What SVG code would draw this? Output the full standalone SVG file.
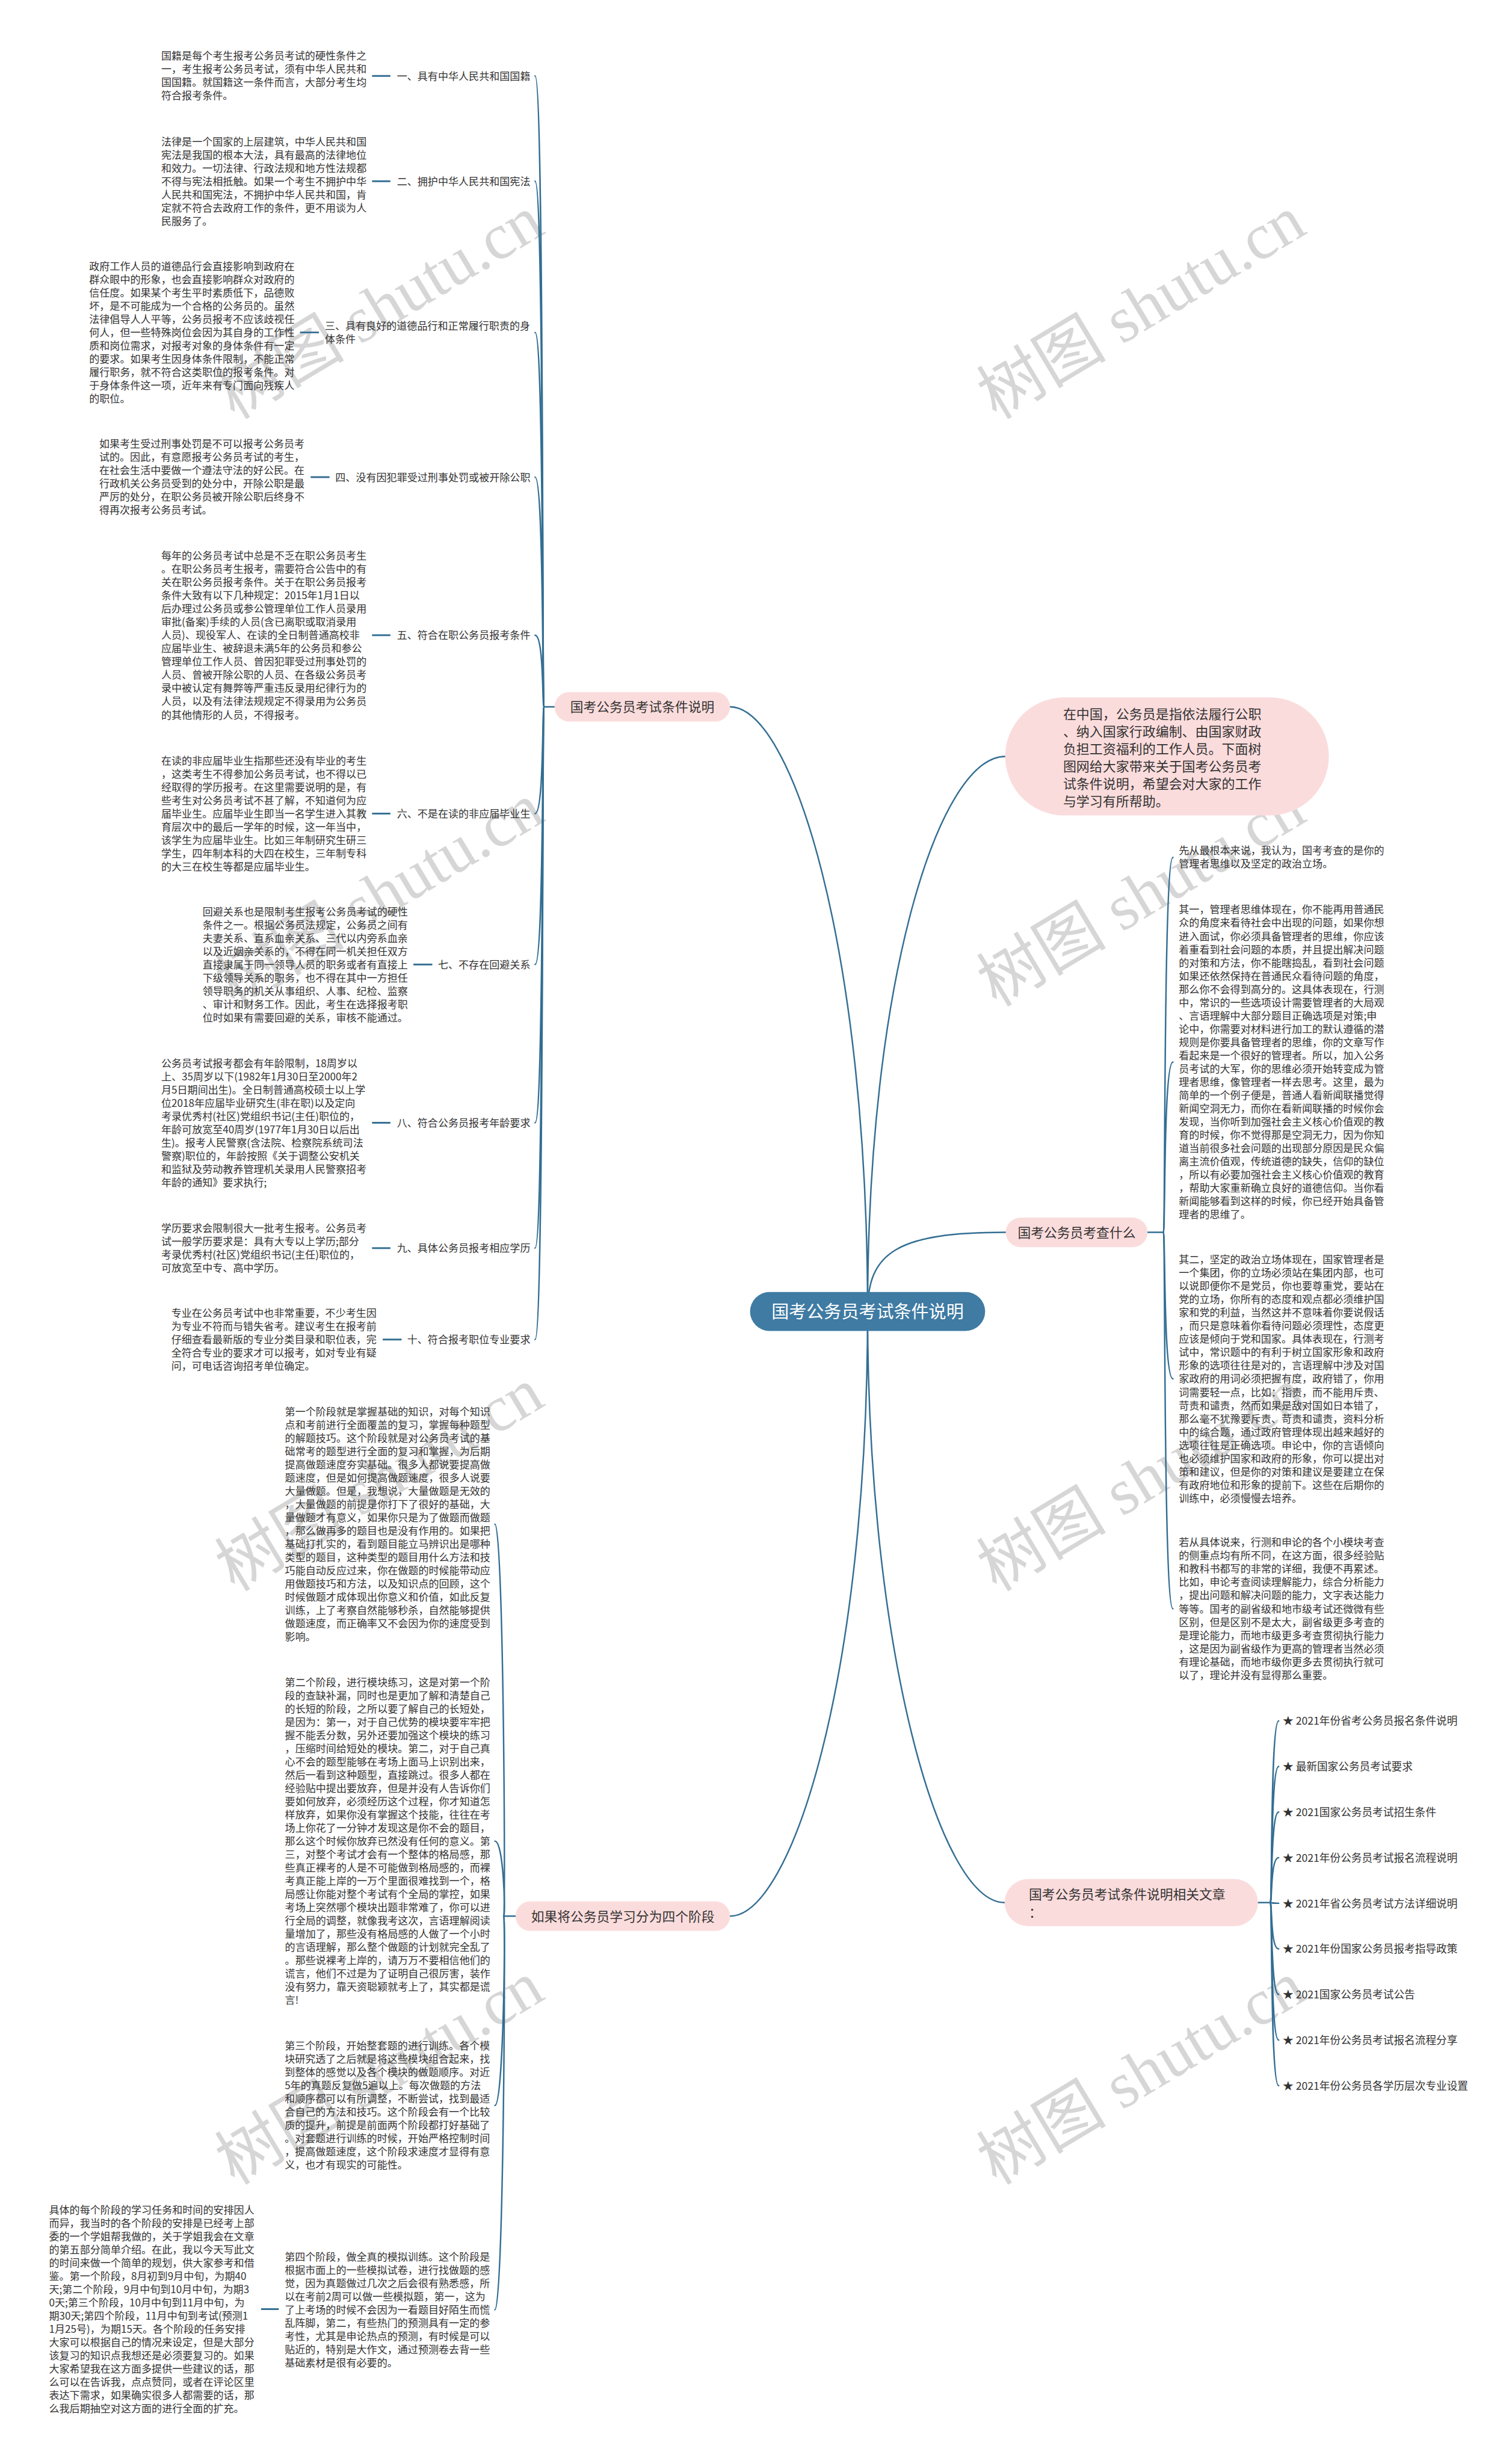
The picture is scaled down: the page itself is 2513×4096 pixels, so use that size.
<svg xmlns="http://www.w3.org/2000/svg" width="2513" height="4096" viewBox="0 0 2513 4096">
<style>
.t{font-family:"Noto Sans CJK SC","Noto Sans",sans-serif;font-size:17.4px;fill:#333}
.li{font-family:"Noto Sans CJK SC","Noto Sans",sans-serif;font-size:18px;fill:#333}
.pt{font-family:"Noto Sans CJK SC","Noto Sans",sans-serif;font-size:22.2px;fill:#333}
.it{font-family:"Noto Sans CJK SC","Noto Sans",sans-serif;font-size:22.4px;fill:#333}
.rt{font-family:"Noto Sans CJK SC","Noto Sans",sans-serif;font-size:29.6px;fill:#fff}
.pill{fill:#fbdcdc}
.c{fill:none;stroke:#336e93;stroke-width:2.5;stroke-linecap:round}
.s{fill:none;stroke:#336e93;stroke-width:3}
.wm{font-family:"Liberation Serif","Noto Sans CJK SC",serif;font-size:110px;fill:#d6d6d6;text-anchor:middle}
</style>
<rect width="2513" height="4096" fill="#ffffff"/>
<g transform="scale(0.9816)">
<g id="watermarks">
<text class="wm" transform="translate(642,520) rotate(-31)" x="0" y="38">树图 shutu.cn</text>
<text class="wm" transform="translate(1932,520) rotate(-31)" x="0" y="38">树图 shutu.cn</text>
<text class="wm" transform="translate(642,1515) rotate(-31)" x="0" y="38">树图 shutu.cn</text>
<text class="wm" transform="translate(1932,1515) rotate(-31)" x="0" y="38">树图 shutu.cn</text>
<text class="wm" transform="translate(642,2505) rotate(-31)" x="0" y="38">树图 shutu.cn</text>
<text class="wm" transform="translate(1932,2505) rotate(-31)" x="0" y="38">树图 shutu.cn</text>
<text class="wm" transform="translate(642,3510) rotate(-31)" x="0" y="38">树图 shutu.cn</text>
<text class="wm" transform="translate(1932,3510) rotate(-31)" x="0" y="38">树图 shutu.cn</text>
</g>
<g id="connectors">
<path class="c" d="M1469 2221 C1469 1600,1340 1197,1236 1197"/>
<path class="c" d="M1469 2221 C1469 2842,1340 3245,1236 3245"/>
<path class="c" d="M1469 2221 C1469 1660,1590 1281,1702 1281"/>
<path class="c" d="M1469 2221 C1469 2120,1520 2087,1703 2087"/>
<path class="c" d="M1469 2221 C1469 2790,1590 3222,1701 3222"/>
<path class="c" d="M939 1197 H921"/>
<path class="c" d="M921 1197 C918 1197,921 128.6,906 128.6"/>
<path class="c" d="M921 1197 C918 1197,921 306.9,906 306.9"/>
<path class="c" d="M921 1197 C918 1197,921 563,906 563"/>
<path class="c" d="M921 1197 C918 1197,921 808,906 808"/>
<path class="c" d="M921 1197 C918 1197,921 1075.7,906 1075.7"/>
<path class="c" d="M921 1197 C918 1197,921 1377.8,906 1377.8"/>
<path class="c" d="M921 1197 C918 1197,921 1633.4,906 1633.4"/>
<path class="c" d="M921 1197 C918 1197,921 1901.4,906 1901.4"/>
<path class="c" d="M921 1197 C918 1197,921 2113.7,906 2113.7"/>
<path class="c" d="M921 1197 C918 1197,921 2268.5,906 2268.5"/>
<path class="s" d="M630 128.6 H661"/>
<path class="s" d="M630 306.9 H661"/>
<path class="s" d="M508 563 H540"/>
<path class="s" d="M526 808 H558"/>
<path class="s" d="M630 1075.7 H661"/>
<path class="s" d="M630 1377.8 H661"/>
<path class="s" d="M700 1633.4 H732"/>
<path class="s" d="M630 1901.4 H661"/>
<path class="s" d="M630 2113.7 H661"/>
<path class="s" d="M648 2268.5 H680"/>
<path class="c" d="M873 3245 H853"/>
<path class="c" d="M853 3245 C856 3245,853 2581.2,838 2581.2"/>
<path class="c" d="M853 3245 C856 3245,853 3118,838 3118"/>
<path class="c" d="M853 3245 C856 3245,853 3565.5,838 3565.5"/>
<path class="c" d="M853 3245 C856 3245,853 3911.4,838 3911.4"/>
<path class="s" d="M442 3910.5 H472"/>
<path class="c" d="M1943 2087 H1970"/>
<path class="c" d="M1970 2087 C1973 2087,1970 1452,1986 1452"/>
<path class="c" d="M1970 2087 C1973 2087,1970 1798.6,1986 1798.6"/>
<path class="c" d="M1970 2087 C1973 2087,1970 2335,1986 2335"/>
<path class="c" d="M1970 2087 C1973 2087,1970 2724.5,1986 2724.5"/>
<path class="c" d="M2130 3222 H2151"/>
<path class="c" d="M2151 3222 C2154 3222,2151 2914.4,2165 2914.4"/>
<path class="c" d="M2151 3222 C2154 3222,2151 2991.6,2165 2991.6"/>
<path class="c" d="M2151 3222 C2154 3222,2151 3068.8,2165 3068.8"/>
<path class="c" d="M2151 3222 C2154 3222,2151 3146,2165 3146"/>
<path class="c" d="M2151 3222 C2154 3222,2151 3223.2,2165 3223.2"/>
<path class="c" d="M2151 3222 C2154 3222,2151 3300.4,2165 3300.4"/>
<path class="c" d="M2151 3222 C2154 3222,2151 3377.6,2165 3377.6"/>
<path class="c" d="M2151 3222 C2154 3222,2151 3454.8,2165 3454.8"/>
<path class="c" d="M2151 3222 C2154 3222,2151 3532,2165 3532"/>
</g>
<g id="root">
<rect x="1270" y="2188" width="398" height="66" rx="33" fill="#3f7ba3"/>
<text class="rt" x="1469" y="2232.2" text-anchor="middle">国考公务员考试条件说明</text>
</g>
<g id="branch-conditions">
<rect class="pill" x="939" y="1172" width="297" height="50" rx="25"/>
<text class="pt" x="1087.5" y="1205.4" text-anchor="middle">国考公务员考试条件说明</text>
</g>
<g id="branch-stages">
<rect class="pill" x="873" y="3220" width="363" height="50" rx="25"/>
<text class="pt" x="1054.5" y="3253.4" text-anchor="middle">如果将公务员学习分为四个阶段</text>
</g>
<g id="intro">
<rect class="pill" x="1702" y="1181" width="548" height="200" rx="100"/>
<text class="it" x="1800" y="1217.5"><tspan x="1800">在中国，公务员是指依法履行公职</tspan><tspan x="1800" dy="29.5">、纳入国家行政编制、由国家财政</tspan><tspan x="1800" dy="29.5">负担工资福利的工作人员。下面树</tspan><tspan x="1800" dy="29.5">图网给大家带来关于国考公务员考</tspan><tspan x="1800" dy="29.5">试条件说明，希望会对大家的工作</tspan><tspan x="1800" dy="29.5">与学习有所帮助。</tspan></text>
</g>
<g id="branch-examine">
<rect class="pill" x="1703" y="2062" width="240" height="50" rx="25"/>
<text class="pt" x="1823" y="2095.4" text-anchor="middle">国考公务员考查什么</text>
</g>
<g id="branch-articles">
<rect class="pill" x="1701" y="3182" width="429" height="80" rx="40"/>
<text class="pt" x="1742" y="3216.4"><tspan x="1742">国考公务员考试条件说明相关文章</tspan><tspan x="1742" dy="30">：</tspan></text>
</g>
<g id="c1">
<text class="t" x="898" y="135.1" text-anchor="end">一、具有中华人民共和国国籍</text>
<text class="t" x="273" y="101.2"><tspan x="273">国籍是每个考生报考公务员考试的硬性条件之</tspan><tspan x="273" dy="22.45">一，考生报考公务员考试，须有中华人民共和</tspan><tspan x="273" dy="22.45">国国籍。就国籍这一条件而言，大部分考生均</tspan><tspan x="273" dy="22.45">符合报考条件。</tspan></text>
</g>
<g id="c2">
<text class="t" x="898" y="313.4" text-anchor="end">二、拥护中华人民共和国宪法</text>
<text class="t" x="273" y="246.1"><tspan x="273">法律是一个国家的上层建筑，中华人民共和国</tspan><tspan x="273" dy="22.45">宪法是我国的根本大法，具有最高的法律地位</tspan><tspan x="273" dy="22.45">和效力。一切法律、行政法规和地方性法规都</tspan><tspan x="273" dy="22.45">不得与宪法相抵触。如果一个考生不拥护中华</tspan><tspan x="273" dy="22.45">人民共和国宪法，不拥护中华人民共和国，肯</tspan><tspan x="273" dy="22.45">定就不符合去政府工作的条件，更不用谈为人</tspan><tspan x="273" dy="22.45">民服务了。</tspan></text>
</g>
<g id="c3">
<text class="t" x="550" y="558.3"><tspan x="550">三、具有良好的道德品行和正常履行职责的身</tspan><tspan x="550" dy="22.45">体条件</tspan></text>
<text class="t" x="151" y="457.1"><tspan x="151">政府工作人员的道德品行会直接影响到政府在</tspan><tspan x="151" dy="22.45">群众眼中的形象，也会直接影响群众对政府的</tspan><tspan x="151" dy="22.45">信任度。如果某个考生平时素质低下，品德败</tspan><tspan x="151" dy="22.45">坏，是不可能成为一个合格的公务员的。虽然</tspan><tspan x="151" dy="22.45">法律倡导人人平等，公务员报考不应该歧视任</tspan><tspan x="151" dy="22.45">何人，但一些特殊岗位会因为其自身的工作性</tspan><tspan x="151" dy="22.45">质和岗位需求，对报考对象的身体条件有一定</tspan><tspan x="151" dy="22.45">的要求。如果考生因身体条件限制，不能正常</tspan><tspan x="151" dy="22.45">履行职务，就不符合这类职位的报考条件。对</tspan><tspan x="151" dy="22.45">于身体条件这一项，近年来有专门面向残疾人</tspan><tspan x="151" dy="22.45">的职位。</tspan></text>
</g>
<g id="c4">
<text class="t" x="898" y="814.5" text-anchor="end">四、没有因犯罪受过刑事处罚或被开除公职</text>
<text class="t" x="168" y="758.2"><tspan x="168">如果考生受过刑事处罚是不可以报考公务员考</tspan><tspan x="168" dy="22.45">试的。因此，有意愿报考公务员考试的考生，</tspan><tspan x="168" dy="22.45">在社会生活中要做一个遵法守法的好公民。在</tspan><tspan x="168" dy="22.45">行政机关公务员受到的处分中，开除公职是最</tspan><tspan x="168" dy="22.45">严厉的处分，在职公务员被开除公职后终身不</tspan><tspan x="168" dy="22.45">得再次报考公务员考试。</tspan></text>
</g>
<g id="c5">
<text class="t" x="898" y="1082.2" text-anchor="end">五、符合在职公务员报考条件</text>
<text class="t" x="273" y="947.5"><tspan x="273">每年的公务员考试中总是不乏在职公务员考生</tspan><tspan x="273" dy="22.45">。在职公务员考生报考，需要符合公告中的有</tspan><tspan x="273" dy="22.45">关在职公务员报考条件。关于在职公务员报考</tspan><tspan x="273" dy="22.45">条件大致有以下几种规定：2015年1月1日以</tspan><tspan x="273" dy="22.45">后办理过公务员或参公管理单位工作人员录用</tspan><tspan x="273" dy="22.45">审批(备案)手续的人员(含已离职或取消录用</tspan><tspan x="273" dy="22.45">人员)、现役军人、在读的全日制普通高校非</tspan><tspan x="273" dy="22.45">应届毕业生、被辞退未满5年的公务员和参公</tspan><tspan x="273" dy="22.45">管理单位工作人员、曾因犯罪受过刑事处罚的</tspan><tspan x="273" dy="22.45">人员、曾被开除公职的人员、在各级公务员考</tspan><tspan x="273" dy="22.45">录中被认定有舞弊等严重违反录用纪律行为的</tspan><tspan x="273" dy="22.45">人员，以及有法律法规规定不得录用为公务员</tspan><tspan x="273" dy="22.45">的其他情形的人员，不得报考。</tspan></text>
</g>
<g id="c6">
<text class="t" x="898" y="1384.3" text-anchor="end">六、不是在读的非应届毕业生</text>
<text class="t" x="273" y="1294.5"><tspan x="273">在读的非应届毕业生指那些还没有毕业的考生</tspan><tspan x="273" dy="22.45">，这类考生不得参加公务员考试，也不得以已</tspan><tspan x="273" dy="22.45">经取得的学历报考。在这里需要说明的是，有</tspan><tspan x="273" dy="22.45">些考生对公务员考试不甚了解，不知道何为应</tspan><tspan x="273" dy="22.45">届毕业生。应届毕业生即当一名学生进入其教</tspan><tspan x="273" dy="22.45">育层次中的最后一学年的时候，这一年当中，</tspan><tspan x="273" dy="22.45">该学生为应届毕业生。比如三年制研究生研三</tspan><tspan x="273" dy="22.45">学生，四年制本科的大四在校生，三年制专科</tspan><tspan x="273" dy="22.45">的大三在校生等都是应届毕业生。</tspan></text>
</g>
<g id="c7">
<text class="t" x="898" y="1639.9" text-anchor="end">七、不存在回避关系</text>
<text class="t" x="343" y="1550.1"><tspan x="343">回避关系也是限制考生报考公务员考试的硬性</tspan><tspan x="343" dy="22.45">条件之一。根据公务员法规定，公务员之间有</tspan><tspan x="343" dy="22.45">夫妻关系、直系血亲关系、三代以内旁系血亲</tspan><tspan x="343" dy="22.45">以及近姻亲关系的，不得在同一机关担任双方</tspan><tspan x="343" dy="22.45">直接隶属于同一领导人员的职务或者有直接上</tspan><tspan x="343" dy="22.45">下级领导关系的职务，也不得在其中一方担任</tspan><tspan x="343" dy="22.45">领导职务的机关从事组织、人事、纪检、监察</tspan><tspan x="343" dy="22.45">、审计和财务工作。因此，考生在选择报考职</tspan><tspan x="343" dy="22.45">位时如果有需要回避的关系，审核不能通过。</tspan></text>
</g>
<g id="c8">
<text class="t" x="898" y="1907.9" text-anchor="end">八、符合公务员报考年龄要求</text>
<text class="t" x="273" y="1806.9"><tspan x="273">公务员考试报考都会有年龄限制，18周岁以</tspan><tspan x="273" dy="22.45">上、35周岁以下(1982年1月30日至2000年2</tspan><tspan x="273" dy="22.45">月5日期间出生)。全日制普通高校硕士以上学</tspan><tspan x="273" dy="22.45">位2018年应届毕业研究生(非在职)以及定向</tspan><tspan x="273" dy="22.45">考录优秀村(社区)党组织书记(主任)职位的，</tspan><tspan x="273" dy="22.45">年龄可放宽至40周岁(1977年1月30日以后出</tspan><tspan x="273" dy="22.45">生)。报考人民警察(含法院、检察院系统司法</tspan><tspan x="273" dy="22.45">警察)职位的，年龄按照《关于调整公安机关</tspan><tspan x="273" dy="22.45">和监狱及劳动教养管理机关录用人民警察招考</tspan><tspan x="273" dy="22.45">年龄的通知》要求执行;</tspan></text>
</g>
<g id="c9">
<text class="t" x="898" y="2120.2" text-anchor="end">九、具体公务员报考相应学历</text>
<text class="t" x="273" y="2086.5"><tspan x="273">学历要求会限制很大一批考生报考。公务员考</tspan><tspan x="273" dy="22.45">试一般学历要求是：具有大专以上学历;部分</tspan><tspan x="273" dy="22.45">考录优秀村(社区)党组织书记(主任)职位的，</tspan><tspan x="273" dy="22.45">可放宽至中专、高中学历。</tspan></text>
</g>
<g id="c10">
<text class="t" x="898" y="2275" text-anchor="end">十、符合报考职位专业要求</text>
<text class="t" x="290" y="2230.1"><tspan x="290">专业在公务员考试中也非常重要，不少考生因</tspan><tspan x="290" dy="22.45">为专业不符而与错失省考。建议考生在报考前</tspan><tspan x="290" dy="22.45">仔细查看最新版的专业分类目录和职位表，完</tspan><tspan x="290" dy="22.45">全符合专业的要求才可以报考，如对专业有疑</tspan><tspan x="290" dy="22.45">问，可电话咨询招考单位确定。</tspan></text>
</g>
<g id="stage1">
<text class="t" x="482.5" y="2396.9"><tspan x="482.5">第一个阶段就是掌握基础的知识，对每个知识</tspan><tspan x="482.5" dy="22.45">点和考前进行全面覆盖的复习，掌握每种题型</tspan><tspan x="482.5" dy="22.45">的解题技巧。这个阶段就是对公务员考试的基</tspan><tspan x="482.5" dy="22.45">础常考的题型进行全面的复习和掌握，为后期</tspan><tspan x="482.5" dy="22.45">提高做题速度夯实基础。很多人都说要提高做</tspan><tspan x="482.5" dy="22.45">题速度，但是如何提高做题速度，很多人说要</tspan><tspan x="482.5" dy="22.45">大量做题。但是，我想说，大量做题是无效的</tspan><tspan x="482.5" dy="22.45">，大量做题的前提是你打下了很好的基础，大</tspan><tspan x="482.5" dy="22.45">量做题才有意义，如果你只是为了做题而做题</tspan><tspan x="482.5" dy="22.45">，那么做再多的题目也是没有作用的。如果把</tspan><tspan x="482.5" dy="22.45">基础打扎实的，看到题目能立马辨识出是哪种</tspan><tspan x="482.5" dy="22.45">类型的题目，这种类型的题目用什么方法和技</tspan><tspan x="482.5" dy="22.45">巧能自动反应过来，你在做题的时候能带动应</tspan><tspan x="482.5" dy="22.45">用做题技巧和方法，以及知识点的回顾，这个</tspan><tspan x="482.5" dy="22.45">时候做题才成体现出你意义和价值，如此反复</tspan><tspan x="482.5" dy="22.45">训练，上了考察自然能够秒杀，自然能够提供</tspan><tspan x="482.5" dy="22.45">做题速度，而正确率又不会因为你的速度受到</tspan><tspan x="482.5" dy="22.45">影响。</tspan></text>
</g>
<g id="stage2">
<text class="t" x="482.5" y="2855.1"><tspan x="482.5">第二个阶段，进行模块练习，这是对第一个阶</tspan><tspan x="482.5" dy="22.45">段的查缺补漏，同时也是更加了解和清楚自己</tspan><tspan x="482.5" dy="22.45">的长短的阶段，之所以要了解自己的长短处，</tspan><tspan x="482.5" dy="22.45">是因为：第一，对于自己优势的模块要牢牢把</tspan><tspan x="482.5" dy="22.45">握不能丢分数，另外还要加强这个模块的练习</tspan><tspan x="482.5" dy="22.45">，压缩时间给短处的模块。第二，对于自己真</tspan><tspan x="482.5" dy="22.45">心不会的题型能够在考场上面马上识别出来，</tspan><tspan x="482.5" dy="22.45">然后一看到这种题型，直接跳过。很多人都在</tspan><tspan x="482.5" dy="22.45">经验贴中提出要放弃，但是并没有人告诉你们</tspan><tspan x="482.5" dy="22.45">要如何放弃，必须经历这个过程，你才知道怎</tspan><tspan x="482.5" dy="22.45">样放弃，如果你没有掌握这个技能，往往在考</tspan><tspan x="482.5" dy="22.45">场上你花了一分钟才发现这是你不会的题目，</tspan><tspan x="482.5" dy="22.45">那么这个时候你放弃已然没有任何的意义。第</tspan><tspan x="482.5" dy="22.45">三，对整个考试才会有一个整体的格局感，那</tspan><tspan x="482.5" dy="22.45">些真正裸考的人是不可能做到格局感的，而裸</tspan><tspan x="482.5" dy="22.45">考真正能上岸的一万个里面很难找到一个，格</tspan><tspan x="482.5" dy="22.45">局感让你能对整个考试有个全局的掌控，如果</tspan><tspan x="482.5" dy="22.45">考场上突然哪个模块出题非常难了，你可以进</tspan><tspan x="482.5" dy="22.45">行全局的调整，就像我考这次，言语理解阅读</tspan><tspan x="482.5" dy="22.45">量增加了，那些没有格局感的人做了一个小时</tspan><tspan x="482.5" dy="22.45">的言语理解，那么整个做题的计划就完全乱了</tspan><tspan x="482.5" dy="22.45">。那些说裸考上岸的，请万万不要相信他们的</tspan><tspan x="482.5" dy="22.45">谎言，他们不过是为了证明自己很厉害，装作</tspan><tspan x="482.5" dy="22.45">没有努力，靠天资聪颖就考上了，其实都是谎</tspan><tspan x="482.5" dy="22.45">言!</tspan></text>
</g>
<g id="stage3">
<text class="t" x="482" y="3471"><tspan x="482">第三个阶段，开始整套题的进行训练。各个模</tspan><tspan x="482" dy="22.45">块研究透了之后就是将这些模块组合起来，找</tspan><tspan x="482" dy="22.45">到整体的感觉以及各个模块的做题顺序。对近</tspan><tspan x="482" dy="22.45">5年的真题反复做5遍以上。每次做题的方法</tspan><tspan x="482" dy="22.45">和顺序都可以有所调整，不断尝试，找到最适</tspan><tspan x="482" dy="22.45">合自己的方法和技巧。这个阶段会有一个比较</tspan><tspan x="482" dy="22.45">质的提升，前提是前面两个阶段都打好基础了</tspan><tspan x="482" dy="22.45">。对套题进行训练的时候，开始严格控制时间</tspan><tspan x="482" dy="22.45">，提高做题速度，这个阶段求速度才显得有意</tspan><tspan x="482" dy="22.45">义，也才有现实的可能性。</tspan></text>
</g>
<g id="stage4">
<text class="t" x="482" y="3828.1"><tspan x="482">第四个阶段，做全真的模拟训练。这个阶段是</tspan><tspan x="482" dy="22.45">根据市面上的一些模拟试卷，进行找做题的感</tspan><tspan x="482" dy="22.45">觉，因为真题做过几次之后会很有熟悉感，所</tspan><tspan x="482" dy="22.45">以在考前2周可以做一些模拟题，第一，这为</tspan><tspan x="482" dy="22.45">了上考场的时候不会因为一看题目好陌生而慌</tspan><tspan x="482" dy="22.45">乱阵脚，第二，有些热门的预测具有一定的参</tspan><tspan x="482" dy="22.45">考性，尤其是申论热点的预测，有时候是可以</tspan><tspan x="482" dy="22.45">贴近的，特别是大作文，通过预测卷去背一些</tspan><tspan x="482" dy="22.45">基础素材是很有必要的。</tspan></text>
</g>
<g id="stage-plan">
<text class="t" x="83" y="3748.5"><tspan x="83">具体的每个阶段的学习任务和时间的安排因人</tspan><tspan x="83" dy="22.45">而异，我当时的各个阶段的安排是已经考上部</tspan><tspan x="83" dy="22.45">委的一个学姐帮我做的，关于学姐我会在文章</tspan><tspan x="83" dy="22.45">的第五部分简单介绍。在此，我以今天写此文</tspan><tspan x="83" dy="22.45">的时间来做一个简单的规划，供大家参考和借</tspan><tspan x="83" dy="22.45">鉴。第一个阶段，8月初到9月中旬，为期40</tspan><tspan x="83" dy="22.45">天;第二个阶段，9月中旬到10月中旬，为期3</tspan><tspan x="83" dy="22.45">0天;第三个阶段，10月中旬到11月中旬，为</tspan><tspan x="83" dy="22.45">期30天;第四个阶段，11月中旬到考试(预测1</tspan><tspan x="83" dy="22.45">1月25号)，为期15天。各个阶段的任务安排</tspan><tspan x="83" dy="22.45">大家可以根据自己的情况来设定，但是大部分</tspan><tspan x="83" dy="22.45">该复习的知识点我想还是必须要复习的。如果</tspan><tspan x="83" dy="22.45">大家希望我在这方面多提供一些建议的话，那</tspan><tspan x="83" dy="22.45">么可以在告诉我，点点赞同，或者在评论区里</tspan><tspan x="83" dy="22.45">表达下需求，如果确实很多人都需要的话，那</tspan><tspan x="83" dy="22.45">么我后期抽空对这方面的进行全面的扩充。</tspan></text>
</g>
<g id="r1">
<text class="t" x="1996" y="1446.9"><tspan x="1996">先从最根本来说，我认为，国考考查的是你的</tspan><tspan x="1996" dy="22.45">管理者思维以及坚定的政治立场。</tspan></text>
</g>
<g id="r2">
<text class="t" x="1996" y="1546.9"><tspan x="1996">其一，管理者思维体现在，你不能再用普通民</tspan><tspan x="1996" dy="22.45">众的角度来看待社会中出现的问题，如果你想</tspan><tspan x="1996" dy="22.45">进入面试，你必须具备管理者的思维，你应该</tspan><tspan x="1996" dy="22.45">着重看到社会问题的本质，并且提出解决问题</tspan><tspan x="1996" dy="22.45">的对策和方法，你不能瞎捣乱，看到社会问题</tspan><tspan x="1996" dy="22.45">如果还依然保持在普通民众看待问题的角度，</tspan><tspan x="1996" dy="22.45">那么你不会得到高分的。这具体表现在，行测</tspan><tspan x="1996" dy="22.45">中，常识的一些选项设计需要管理者的大局观</tspan><tspan x="1996" dy="22.45">、言语理解中大部分题目正确选项是对策;申</tspan><tspan x="1996" dy="22.45">论中，你需要对材料进行加工的默认遵循的潜</tspan><tspan x="1996" dy="22.45">规则是你要具备管理者的思维，你的文章写作</tspan><tspan x="1996" dy="22.45">看起来是一个很好的管理者。所以，加入公务</tspan><tspan x="1996" dy="22.45">员考试的大军，你的思维必须开始转变成为管</tspan><tspan x="1996" dy="22.45">理者思维，像管理者一样去思考。这里，最为</tspan><tspan x="1996" dy="22.45">简单的一个例子便是，普通人看新闻联播觉得</tspan><tspan x="1996" dy="22.45">新闻空洞无力，而你在看新闻联播的时候你会</tspan><tspan x="1996" dy="22.45">发现，当你听到加强社会主义核心价值观的教</tspan><tspan x="1996" dy="22.45">育的时候，你不觉得那是空洞无力，因为你知</tspan><tspan x="1996" dy="22.45">道当前很多社会问题的出现部分原因是民众偏</tspan><tspan x="1996" dy="22.45">离主流价值观，传统道德的缺失，信仰的缺位</tspan><tspan x="1996" dy="22.45">，所以有必要加强社会主义核心价值观的教育</tspan><tspan x="1996" dy="22.45">，帮助大家重新确立良好的道德信仰。当你看</tspan><tspan x="1996" dy="22.45">新闻能够看到这样的时候，你已经开始具备管</tspan><tspan x="1996" dy="22.45">理者的思维了。</tspan></text>
</g>
<g id="r3">
<text class="t" x="1996" y="2139.5"><tspan x="1996">其二，坚定的政治立场体现在，国家管理者是</tspan><tspan x="1996" dy="22.45">一个集团，你的立场必须站在集团内部，也可</tspan><tspan x="1996" dy="22.45">以说即便你不是党员，你也要尊重党，要站在</tspan><tspan x="1996" dy="22.45">党的立场，你所有的态度和观点都必须维护国</tspan><tspan x="1996" dy="22.45">家和党的利益，当然这并不意味着你要说假话</tspan><tspan x="1996" dy="22.45">，而只是意味着你看待问题必须理性，态度更</tspan><tspan x="1996" dy="22.45">应该是倾向于党和国家。具体表现在，行测考</tspan><tspan x="1996" dy="22.45">试中，常识题中的有利于树立国家形象和政府</tspan><tspan x="1996" dy="22.45">形象的选项往往是对的，言语理解中涉及对国</tspan><tspan x="1996" dy="22.45">家政府的用词必须把握有度，政府错了，你用</tspan><tspan x="1996" dy="22.45">词需要轻一点，比如：指责，而不能用斥责、</tspan><tspan x="1996" dy="22.45">苛责和谴责，然而如果是敌对国如日本错了，</tspan><tspan x="1996" dy="22.45">那么毫不犹豫要斥责、苛责和谴责，资料分析</tspan><tspan x="1996" dy="22.45">中的综合题，通过政府管理体现出越来越好的</tspan><tspan x="1996" dy="22.45">选项往往是正确选项。申论中，你的言语倾向</tspan><tspan x="1996" dy="22.45">也必须维护国家和政府的形象，你可以提出对</tspan><tspan x="1996" dy="22.45">策和建议，但是你的对策和建议是要建立在保</tspan><tspan x="1996" dy="22.45">有政府地位和形象的提前下。这些在后期你的</tspan><tspan x="1996" dy="22.45">训练中，必须慢慢去培养。</tspan></text>
</g>
<g id="r4">
<text class="t" x="1996" y="2618.5"><tspan x="1996">若从具体说来，行测和申论的各个小模块考查</tspan><tspan x="1996" dy="22.45">的侧重点均有所不同，在这方面，很多经验贴</tspan><tspan x="1996" dy="22.45">和教科书都写的非常的详细，我便不再累述。</tspan><tspan x="1996" dy="22.45">比如，申论考查阅读理解能力，综合分析能力</tspan><tspan x="1996" dy="22.45">，提出问题和解决问题的能力，文字表达能力</tspan><tspan x="1996" dy="22.45">等等。国考的副省级和地市级考试还微微有些</tspan><tspan x="1996" dy="22.45">区别，但是区别不是太大，副省级更多考查的</tspan><tspan x="1996" dy="22.45">是理论能力，而地市级更多考查贯彻执行能力</tspan><tspan x="1996" dy="22.45">，这是因为副省级作为更高的管理者当然必须</tspan><tspan x="1996" dy="22.45">有理论基础，而地市级你更多去贯彻执行就可</tspan><tspan x="1996" dy="22.45">以了，理论并没有显得那么重要。</tspan></text>
</g>
<g id="articles">
<text class="li" x="2172" y="2921.2">★ 2021年份省考公务员报名条件说明</text>
<text class="li" x="2172" y="2998.4">★ 最新国家公务员考试要求</text>
<text class="li" x="2172" y="3075.6">★ 2021国家公务员考试招生条件</text>
<text class="li" x="2172" y="3152.8">★ 2021年份公务员考试报名流程说明</text>
<text class="li" x="2172" y="3230">★ 2021年省公务员考试方法详细说明</text>
<text class="li" x="2172" y="3307.2">★ 2021年份国家公务员报考指导政策</text>
<text class="li" x="2172" y="3384.4">★ 2021国家公务员考试公告</text>
<text class="li" x="2172" y="3461.6">★ 2021年份公务员考试报名流程分享</text>
<text class="li" x="2172" y="3538.8">★ 2021年份公务员各学历层次专业设置</text>
</g>
</g>
</svg>
